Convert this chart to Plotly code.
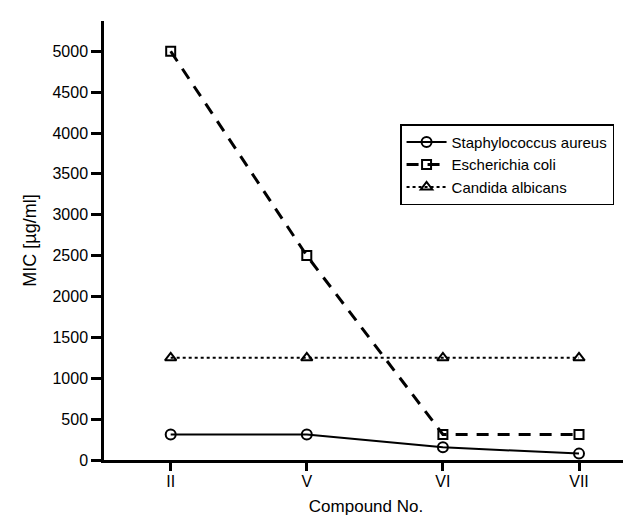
import plotly.graph_objects as go

compounds = ["II", "V", "VI", "VII"]
staph = [312.5, 312.5, 156, 78]
ecoli = [5000, 2500, 312.5, 312.5]
candida = [1250, 1250, 1250, 1250]
y_ticks = [0, 500, 1000, 1500, 2000, 2500, 3000, 3500, 4000, 4500, 5000]

FONT = "Liberation Sans, Arial, sans-serif"

fig = go.Figure()
fig.add_trace(go.Scatter(
    x=compounds, y=staph, name="Staphylococcus aureus", mode="lines+markers",
    line=dict(color="black", width=2, dash="solid"),
    marker=dict(symbol="circle-open", size=10, color="black", line=dict(width=2)),
))
fig.add_trace(go.Scatter(
    x=compounds, y=ecoli, name="Escherichia coli", mode="lines+markers",
    line=dict(color="black", width=3, dash="12px,9px"),
    marker=dict(symbol="square-open", size=9, color="black", line=dict(width=2)),
))
fig.add_trace(go.Scatter(
    x=compounds, y=candida, name="Candida albicans", mode="lines+markers",
    line=dict(color="black", width=2, dash="dot"),
    marker=dict(symbol="triangle-up-open", size=10, color="black", line=dict(width=2)),
))

fig.update_layout(
    width=631, height=516,
    margin=dict(l=96, r=11, t=13, b=64),
    paper_bgcolor="white", plot_bgcolor="white",
    font=dict(family=FONT, size=16, color="black"),
    showlegend=True,
    legend=dict(
        x=0.565, y=0.765, xanchor="left", yanchor="top",
        bgcolor="white", bordercolor="black", borderwidth=1.5,
        font=dict(family=FONT, size=15, color="black"),
        tracegroupgap=0, itemwidth=40,
    ),
    xaxis=dict(
        type="category", range=[-0.49, 3.36],
        showline=True, linecolor="black", linewidth=2.5,
        ticks="outside", ticklen=8, tickwidth=2.5, tickcolor="black",
        ticklabelstandoff=-3,
        showgrid=False, zeroline=False,
        title=dict(text="Compound No.", font=dict(size=17), standoff=12),
        tickfont=dict(size=16),
    ),
    yaxis=dict(
        range=[0, 5370],
        tickvals=y_ticks, ticktext=[str(v) for v in y_ticks],
        showline=True, linecolor="black", linewidth=2.5,
        ticks="outside", ticklen=10, tickwidth=2.5, tickcolor="black",
        showgrid=False, zeroline=False,
        title=dict(text="MIC [µg/ml]", font=dict(size=18), standoff=12),
        tickfont=dict(size=16),
    ),
)

fig.write_html("out.html")
